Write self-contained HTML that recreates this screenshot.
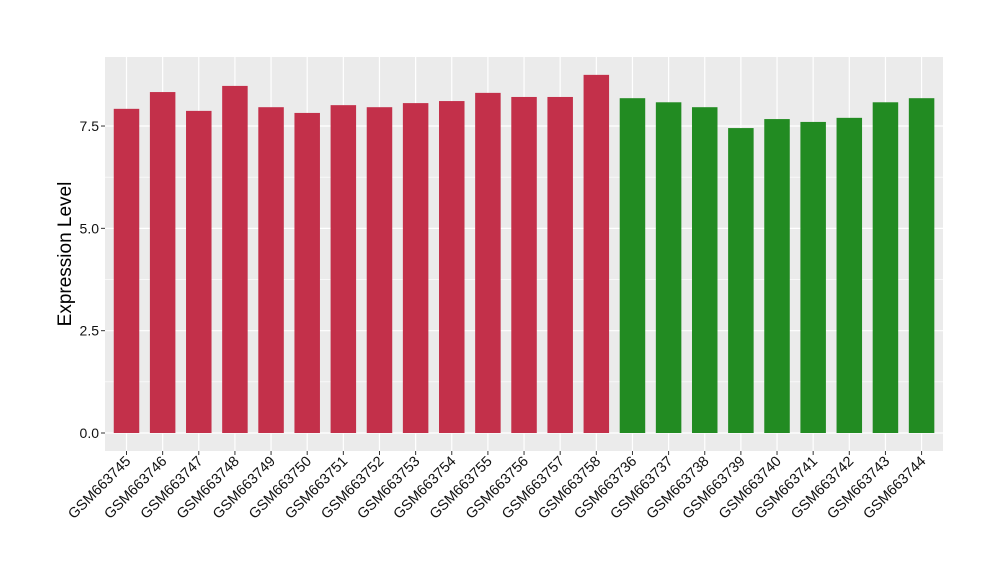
<!DOCTYPE html>
<html><head><meta charset="utf-8"><style>
body{margin:0;background:#fff;width:1000px;height:580px;overflow:hidden}
svg text{font-family:"Liberation Sans",sans-serif}
</style></head><body>
<svg id="chart" width="1000" height="580">
<rect x="105" y="57" width="838" height="394" fill="#ebebeb"/>
<g id="grid"></g><g id="bars"></g><g id="axes"></g>
<text x="71" y="254" font-size="19" text-anchor="middle" transform="rotate(-90 71 254)">Expression Level</text>
</svg>
<script>
const categories=["GSM663745","GSM663746","GSM663747","GSM663748","GSM663749","GSM663750","GSM663751","GSM663752","GSM663753","GSM663754","GSM663755","GSM663756","GSM663757","GSM663758","GSM663736","GSM663737","GSM663738","GSM663739","GSM663740","GSM663741","GSM663742","GSM663743","GSM663744"];
const values=[7.92,8.33,7.87,8.48,7.96,7.82,8.01,7.96,8.06,8.11,8.31,8.21,8.21,8.75,8.18,8.08,7.96,7.45,7.67,7.60,7.70,8.08,8.18];
const groups=["a","a","a","a","a","a","a","a","a","a","a","a","a","a","b","b","b","b","b","b","b","b","b"];
const yTicks=[0,2.5,5,7.5];
const yTickLabels=["0.0","2.5","5.0","7.5"];
const colors={a:"#c3304a",b:"#228b22"};
const NS="http://www.w3.org/2000/svg";
const y=v=>433-v*40.93;
const x=i=>126.5+i*36.14;
const bw=25.5;
function mk(t,a,p){const e=document.createElementNS(NS,t);for(const k in a)e.setAttribute(k,a[k]);p.appendChild(e);return e;}
const grid=document.getElementById('grid'),bars=document.getElementById('bars'),axes=document.getElementById('axes');
for(let k=0;k<yTicks.length;k++){
  const v=yTicks[k];
  if(k<yTicks.length-1){const g=mk('line',{x1:105,x2:943,y1:y(v+1.25),y2:y(v+1.25),stroke:'#fff','stroke-width':0.6},grid);
  
  }
  const l=mk('line',{x1:105,x2:943,y1:y(v),y2:y(v),stroke:'#fff','stroke-width':1.2},grid);
  
  
  mk('line',{x1:101,x2:105,y1:y(v),y2:y(v),stroke:'#333'},axes);
  const t=mk('text',{x:99,y:y(v)+5,'font-size':14,'text-anchor':'end',fill:'#111'},axes);
  t.textContent=yTickLabels[k];
  
  
}
mk('line',{x1:105,x2:943,y1:y(10),y2:y(10),stroke:'#fff','stroke-width':0.6},grid);
categories.forEach((c,i)=>{
  const g=mk('line',{x1:x(i),x2:x(i),y1:57,y2:451,stroke:'#fff','stroke-width':1.2},grid);
  
  
  const r=mk('rect',{x:x(i)-bw/2,y:y(values[i]),width:bw,height:y(0)-y(values[i]),fill:colors[groups[i]]},bars);
  
  
  mk('line',{x1:x(i),x2:x(i),y1:451,y2:455,stroke:'#333'},axes);
  const t=mk('text',{x:x(i)+5,y:462,'font-size':14.5,'text-anchor':'end',fill:'#111',transform:`rotate(-45 ${x(i)+5} 462)`},axes);
  t.textContent=c;
  
  
});
</script>
</body></html>
